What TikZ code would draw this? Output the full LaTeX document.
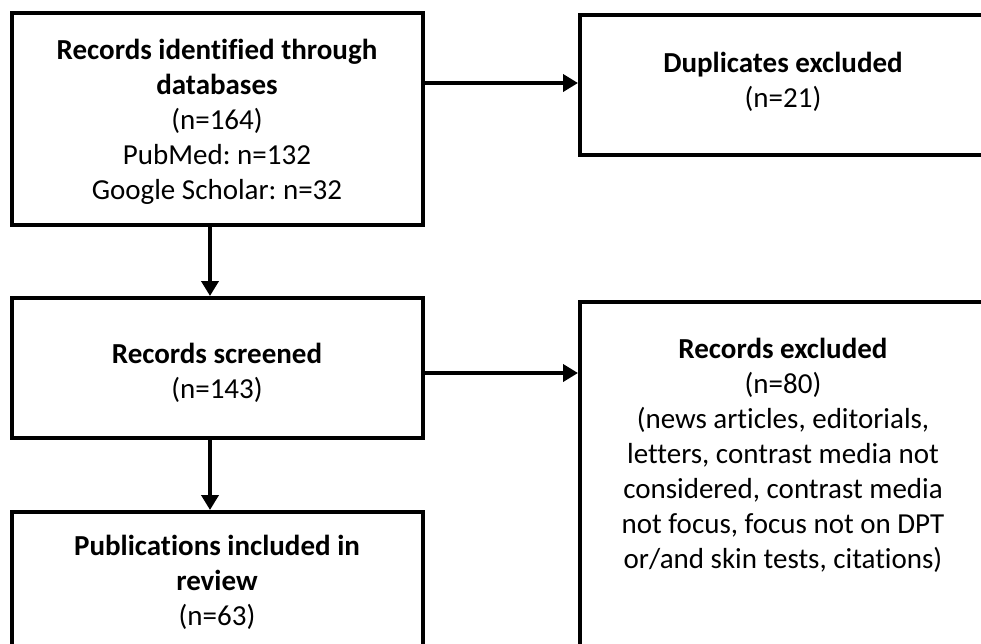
\documentclass[tikz,border=0pt]{standalone}
\usepackage{fontspec}
\setmainfont[Ligatures=NoCommon]{Carlito}
\usetikzlibrary{arrows.meta,calc}
\begin{document}
\frenchspacing
\begin{tikzpicture}[x=1pt,y=-1pt,
  box/.style={draw=black,line width=4pt,fill=white,inner sep=0pt},
  txt/.style={align=center,font=\fontsize{29}{35}\selectfont,inner sep=0pt},
  arr/.style={line width=4.5pt,-{Triangle[length=15pt,width=17pt]}}]
\clip (0,0) rectangle (981,643);
\fill[white] (0,0) rectangle (981,643);
% boxes
\node[box,minimum width=411pt,minimum height=212pt] (b1) at (217.5,119) {};
\node[box,minimum width=440pt,minimum height=140pt,anchor=north west] (dup) at (578,13) {};
\node[box,minimum width=411pt,minimum height=140pt] (scr) at (217.5,368) {};
\node[box,minimum width=440pt,minimum height=380pt,anchor=north west] (exc) at (578,300) {};
\node[box,minimum width=411pt,minimum height=180pt,anchor=north] (pub) at (217.5,510) {};
% texts
\node[txt] (t1) at (217,122) {\textbf{Records identified through}\\\textbf{databases}\\(n=164)\\PubMed: n=132\\Google Scholar: n=32};
\node[txt] (t2) at (783,82) {\textbf{Duplicates excluded}\\(n=21)};
\node[txt] (t3) at (217,373) {\textbf{Records screened}\\(n=143)};
\node[txt] (t4) at (783,455) {\textbf{Records excluded}\\(n=80)\\(news articles, editorials,\\letters, contrast media not\\considered, contrast media\\not focus, focus not on DPT\\or/and skin tests, citations)};
\node[txt] (t5) at (217,582) {\textbf{Publications included in}\\\textbf{review}\\(n=63)};
% connectors
\draw[arr] (b1.east |- 0,83) -- (dup.west |- 0,83);
\draw[arr] (scr.east |- 0,373) -- (exc.west |- 0,373);
\draw[arr] (b1.south -| 210,0) -- (scr.north -| 210,0);
\draw[arr] (scr.south -| 210,0) -- (pub.north -| 210,0);
\end{tikzpicture}
\end{document}
